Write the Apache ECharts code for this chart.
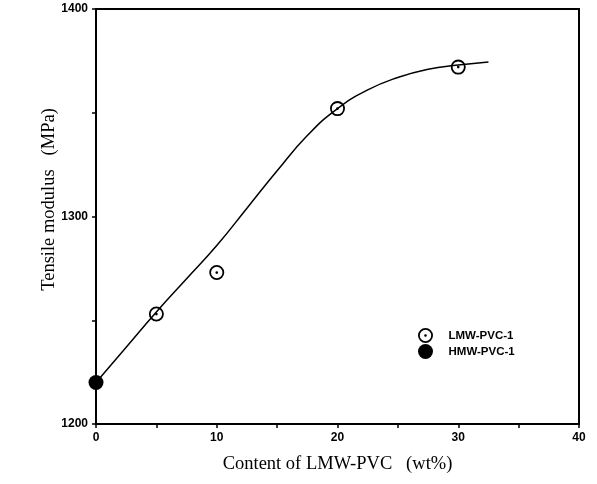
<!DOCTYPE html>
<html>
<head>
<meta charset="utf-8">
<script src="https://cdn.jsdelivr.net/npm/echarts@6/dist/echarts.min.js"></script>
<style>
  html, body { margin: 0; padding: 0; background: #fff; }
  #chart { width: 597px; height: 484px; }
</style>
</head>
<body>
<div id="chart"></div>
<script>
// measured points
var lmwX = [5, 10, 20, 30];
var lmwY = [1253, 1273, 1352, 1372];
var hmwX = [0];
var hmwY = [1220];
// hand-drawn fit curve
var fitX = [0, 2.5, 5, 7.5, 10, 12.5, 15, 17.5, 20, 22.5, 25, 27.5, 30, 32.5];
var fitY = [1220, 1237, 1254, 1270, 1286, 1304, 1322, 1339, 1352, 1361, 1367, 1371, 1373, 1374.5];
var xTicks = [0, 10, 20, 30, 40];
var yTicks = [1200, 1300, 1400];

// ring with a dot in the middle
var dotRing = 'path://M10,0 A10,10 0 1,1 10,20 A10,10 0 1,1 10,0 Z ' +
    'M10,2.4 A7.6,7.6 0 1,0 10,17.6 A7.6,7.6 0 1,0 10,2.4 Z ' +
    'M10,8.2 A1.8,1.8 0 1,1 10,11.8 A1.8,1.8 0 1,1 10,8.2 Z';

function pairs(xs, ys) {
    var out = [];
    for (var i = 0; i < xs.length; i++) out.push([xs[i], ys[i]]);
    return out;
}

var chart = echarts.init(document.getElementById('chart'));
var numFont = { color: '#000', fontFamily: 'Liberation Sans, Arial, sans-serif', fontWeight: 'bold', fontSize: 12 };
var titleFont = { color: '#000', fontFamily: 'Liberation Serif, Times New Roman, serif', fontSize: 18.5 };

chart.setOption({
    animation: false,
    grid: { left: 96, right: 18, top: 9, bottom: 60, show: true, borderColor: '#000', borderWidth: 2 },
    legend: {
        orient: 'vertical',
        left: 413,
        top: 323,
        itemWidth: 22,
        itemHeight: 15,
        itemGap: 1,
        data: ['LMW-PVC-1', 'HMW-PVC-1'],
        textStyle: { color: '#000', fontFamily: 'Liberation Sans, Arial, sans-serif', fontWeight: 'bold', fontSize: 11.5, padding: [0, 0, 0, 7] }
    },
    xAxis: {
        type: 'value',
        min: 0,
        max: 40,
        interval: 5,
        name: 'Content of LMW-PVC   (wt%)',
        nameLocation: 'middle',
        nameGap: 31,
        nameTextStyle: titleFont,
        axisLine: { lineStyle: { color: '#000', width: 2 } },
        axisTick: { length: 4, lineStyle: { color: '#000', width: 1.5 } },
        axisLabel: Object.assign({ margin: 8, formatter: function (v) { return xTicks.indexOf(v) >= 0 ? v : ''; } }, numFont),
        splitLine: { show: false }
    },
    yAxis: {
        type: 'value',
        min: 1200,
        max: 1400,
        interval: 50,
        name: 'Tensile modulus   (MPa)',
        nameLocation: 'middle',
        nameGap: 37,
        nameMoveOverlap: false,
        nameTextStyle: Object.assign({ padding: [0, 0, 0, 34] }, titleFont),
        axisLine: { lineStyle: { color: '#000', width: 2 } },
        axisTick: { length: 4, lineStyle: { color: '#000', width: 1.5 } },
        axisLabel: Object.assign({ margin: 8, formatter: function (v) { return yTicks.indexOf(v) >= 0 ? v : ''; } }, numFont),
        splitLine: { show: false }
    },
    series: [
        {
            name: 'fit',
            type: 'line',
            data: pairs(fitX, fitY),
            smooth: 0.5,
            showSymbol: false,
            silent: true,
            lineStyle: { color: '#000', width: 1.5 },
            z: 1
        },
        {
            name: 'LMW-PVC-1',
            type: 'scatter',
            data: pairs(lmwX, lmwY),
            symbol: dotRing,
            symbolSize: 15,
            itemStyle: { color: '#000', opacity: 1 },
            z: 3
        },
        {
            name: 'HMW-PVC-1',
            type: 'scatter',
            data: pairs(hmwX, hmwY),
            symbol: 'circle',
            symbolSize: 15,
            itemStyle: { color: '#000', opacity: 1 },
            z: 3
        }
    ]
});
</script>
</body>
</html>
